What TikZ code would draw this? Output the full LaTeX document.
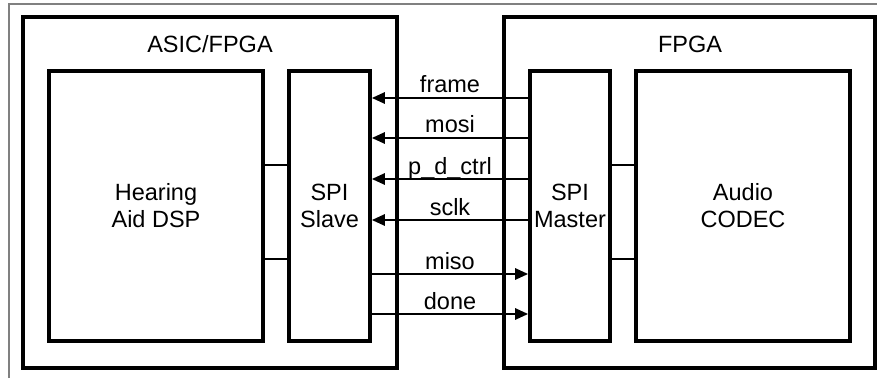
\documentclass[tikz,border=0pt]{standalone}
\usepackage{fontspec}
\setmainfont{Liberation Sans}
\usetikzlibrary{arrows.meta, positioning}

\begin{document}
\begin{tikzpicture}[
  x=1pt, y=1pt,
  font=\fontsize{23.5}{27}\selectfont,
  chip/.style={rectangle, draw, line width=3.6pt, minimum width=#1,
               minimum height=351pt, inner sep=0pt},
  block/.style={rectangle, draw, line width=3.6pt, minimum width=#1,
                minimum height=270pt, align=center, inner sep=0pt},
  link/.style={line width=1.4pt},
  sig/.style={line width=2.6pt, -{Triangle[length=13pt, width=11pt]}},
  lbl/.style={anchor=base, inner sep=0pt, yshift=5pt}
]
\useasboundingbox (0,0) rectangle (877,378);

% page frame
\draw[gray, line width=1.5pt] (9,0) -- (9,374) -- (877,374);

% two chips
\node[chip=374pt] (asic) at (210,185.5) {};
\node[chip=371pt] (fpga) at (689.5,185.5) {};
\node (asictitle) at (210,334) {ASIC/FPGA};
\node (fpgatitle) at (690,334) {FPGA};

% blocks
\node[block=214pt] (dsp)    at (156,172)   {Hearing\\Aid DSP};
\node[block=81pt]  (slave)  at (329.5,172) {SPI\\Slave};
\node[block=80pt]  (master) at (570,172)   {SPI\\Master};
\node[block=214pt] (codec)  at (743,172)   {Audio\\CODEC};

\draw[link] ([yshift=41pt]dsp.east)  -- ([yshift=41pt]slave.west);
\draw[link] ([yshift=-53pt]dsp.east) -- ([yshift=-53pt]slave.west);
\draw[link] ([yshift=41pt]master.east)  -- ([yshift=41pt]codec.west);
\draw[link] ([yshift=-53pt]master.east) -- ([yshift=-53pt]codec.west);

% spi signals
\draw[sig] ([yshift=108pt]master.west) -- ([yshift=108pt]slave.east)
  node[lbl, midway] {frame};
\draw[sig] ([yshift=68pt]master.west) -- ([yshift=68pt]slave.east)
  node[lbl, midway] {mosi};
\draw[sig] ([yshift=27pt]master.west) -- ([yshift=27pt]slave.east)
  node[lbl, midway] {p\_d\_ctrl};
\draw[sig] ([yshift=-14pt]master.west) -- ([yshift=-14pt]slave.east)
  node[lbl, midway] {sclk};
\draw[sig] ([yshift=-68pt]slave.east) -- ([yshift=-68pt]master.west)
  node[lbl, midway] {miso};
\draw[sig] ([yshift=-108pt]slave.east) -- ([yshift=-108pt]master.west)
  node[lbl, midway] {done};

\end{tikzpicture}
\end{document}
